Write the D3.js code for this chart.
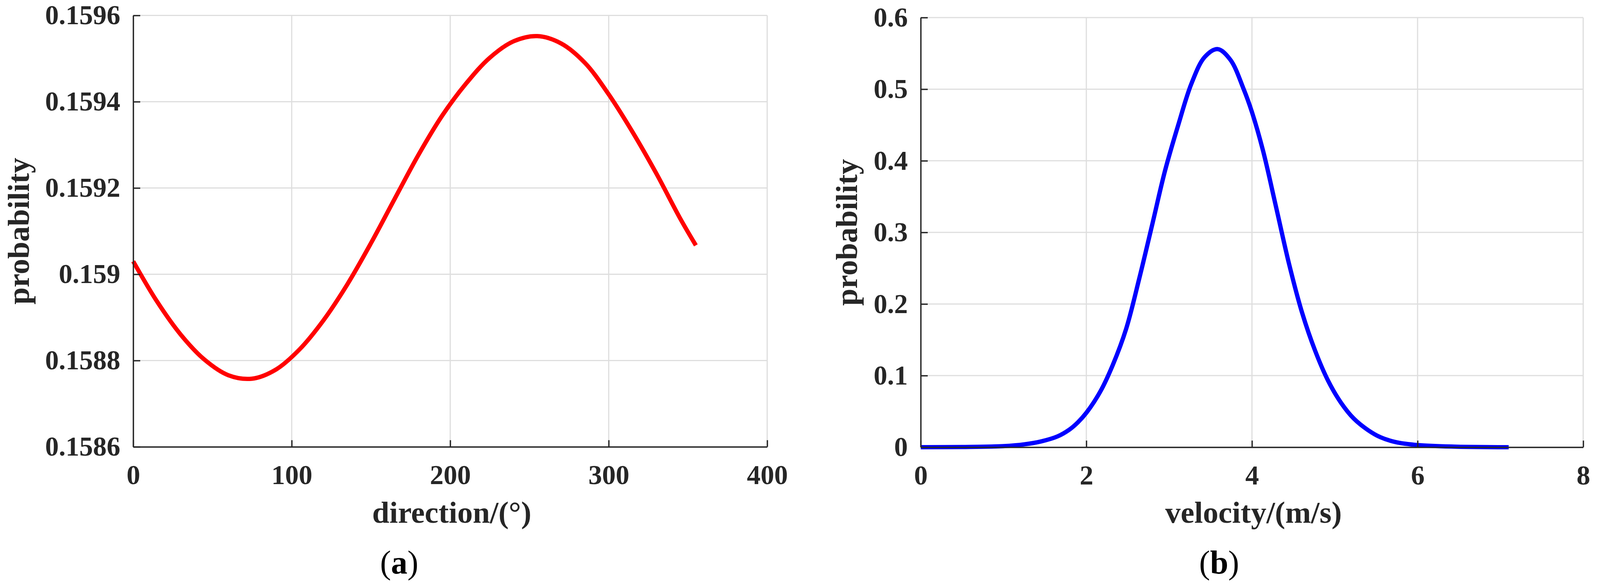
<!DOCTYPE html>
<html>
<head>
<meta charset="utf-8">
<script src="https://cdn.jsdelivr.net/npm/d3@7"></script>
<style>
  html, body { margin: 0; padding: 0; background: #fff; }
  svg { display: block; }
  text { font-family: "Liberation Serif", "Times New Roman", serif; }
</style>
</head>
<body>
<script>
// ---------- Data ----------
const dirDeg  = [0, 15, 30, 45, 60, 75, 90, 105, 120, 135, 150, 165, 180, 195, 210, 225, 240, 255, 270, 285, 300, 315, 330, 345, 355];
const dirProb = [0.15903, 0.158937, 0.15886, 0.158802, 0.158766, 0.158758, 0.158779, 0.158826, 0.158893, 0.158976, 0.159072, 0.159175,
                 0.159277, 0.159368, 0.159442, 0.159502, 0.159540, 0.159552, 0.159535, 0.159490, 0.159417, 0.159330, 0.159234, 0.159130, 0.159067];

const velX    = [0, 0.5, 1.0, 1.25, 1.45, 1.65, 1.8, 1.9, 2.0, 2.17, 2.32, 2.48, 2.64, 2.8, 2.95, 3.11, 3.27, 3.43, 3.585,
                 3.74, 3.9, 4.0, 4.134, 4.29, 4.448, 4.605, 4.762, 4.919, 5.076, 5.23, 5.4, 5.55, 5.74, 6.0, 6.44, 7.1];
const velProb = [0, 0.0003, 0.0015, 0.004, 0.008, 0.015, 0.025, 0.035, 0.048, 0.078, 0.115, 0.165, 0.236, 0.313, 0.386, 0.450, 0.508, 0.545, 0.556,
                 0.541, 0.500, 0.468, 0.414, 0.336, 0.256, 0.188, 0.135, 0.093, 0.062, 0.040, 0.024, 0.014, 0.007, 0.003, 0.0008, 0];

const aXTicks = [0, 100, 200, 300, 400];
const aXTickLabels = ["0", "100", "200", "300", "400"];
const aYTicks = [0.1586, 0.1588, 0.159, 0.1592, 0.1594, 0.1596];
const aYTickLabels = ["0.1586", "0.1588", "0.159", "0.1592", "0.1594", "0.1596"];

const bXTicks = [0, 2, 4, 6, 8];
const bXTickLabels = ["0", "2", "4", "6", "8"];
const bYTicks = [0, 0.1, 0.2, 0.3, 0.4, 0.5, 0.6];
const bYTickLabels = ["0", "0.1", "0.2", "0.3", "0.4", "0.5", "0.6"];

const panels = [
  { xs: dirDeg, ys: dirProb, color: "#ff0000",
    xDomain: [0, 400], yDomain: [0.1586, 0.1596],
    xTicks: aXTicks, xLabels: aXTickLabels, yTicks: aYTicks, yLabels: aYTickLabels,
    xTitle: "direction/(°)", yTitle: "probability", tag: "a",
    left: 341, right: 1964, top: 39.5, bottom: 1144.5,
    yTitleX: 74, tagX: 1022 },
  { xs: velX, ys: velProb, color: "#0000ff",
    xDomain: [0, 8], yDomain: [0, 0.6],
    xTicks: bXTicks, xLabels: bXTickLabels, yTicks: bYTicks, yLabels: bYTickLabels,
    xTitle: "velocity/(m/s)", yTitle: "probability", tag: "b",
    left: 2357, right: 4053, top: 45, bottom: 1145.5,
    yTitleX: 2194, tagX: 3121 }
];

// ---------- Drawing ----------
const W = 4103, H = 1501;
const svg = d3.select("body").append("svg")
  .attr("width", W).attr("height", H)
  .attr("viewBox", `0 0 ${W} ${H}`);
svg.append("rect").attr("width", W).attr("height", H).attr("fill", "#fff");

const axisColor = "#262626";
const gridColor = "#dedede";
const tickFont = 70;
const titleFont = 79;

panels.forEach(p => {
  const x = d3.scaleLinear().domain(p.xDomain).range([p.left, p.right]);
  const y = d3.scaleLinear().domain(p.yDomain).range([p.bottom, p.top]);
  const g = svg.append("g");

  // grid
  const grid = g.append("g");
  grid.selectAll("line.v").data(p.xTicks).join("line")
    .attr("x1", d => x(d)).attr("x2", d => x(d))
    .attr("y1", p.bottom).attr("y2", p.top)
    .attr("stroke", gridColor).attr("stroke-width", 3);
  grid.selectAll("line.h").data(p.yTicks).join("line")
    .attr("x1", p.left).attr("x2", p.right)
    .attr("y1", d => y(d)).attr("y2", d => y(d))
    .attr("stroke", gridColor).attr("stroke-width", 3);

  // line
  const pts = p.xs.map((v, i) => [v, p.ys[i]]);
  g.append("path")
    .datum(pts)
    .attr("fill", "none")
    .attr("stroke", p.color)
    .attr("stroke-width", 11)
    .attr("stroke-linejoin", "round")
    .attr("d", d3.line().x(d => x(d[0])).y(d => y(Math.max(p.yDomain[0], d[1])))
      .curve(d3.curveCatmullRom.alpha(0.5)));

  // axes
  const xAxis = d3.axisBottom(x)
    .tickValues(p.xTicks)
    .tickFormat((d, i) => p.xLabels[i])
    .tickSizeInner(-17).tickSizeOuter(0).tickPadding(46);
  const yAxis = d3.axisLeft(y)
    .tickValues(p.yTicks)
    .tickFormat((d, i) => p.yLabels[i])
    .tickSizeInner(-18).tickSizeOuter(0).tickPadding(33);

  const gx = g.append("g").attr("transform", `translate(0,${p.bottom})`).call(xAxis);
  const gy = g.append("g").attr("transform", `translate(${p.left},0)`).call(yAxis);
  [gx, gy].forEach(ax => {
    ax.attr("font-family", null);
    ax.select(".domain").attr("stroke", axisColor).attr("stroke-width", 3.4);
    ax.selectAll(".tick line").attr("stroke", axisColor).attr("stroke-width", 3.4);
    ax.selectAll(".tick text")
      .attr("fill", axisColor)
      .attr("font-family", "Liberation Serif")
      .attr("font-weight", "bold")
      .attr("font-size", tickFont);
  });

  // axis titles
  g.append("text")
    .attr("x", (p.left + p.right) / 2 + 4)
    .attr("y", 1339)
    .attr("text-anchor", "middle")
    .attr("fill", axisColor)
    .attr("font-weight", "bold")
    .attr("font-size", titleFont)
    .text(p.xTitle);

  g.append("text")
    .attr("transform", `translate(${p.yTitleX},${(p.top + p.bottom) / 2}) rotate(-90)`)
    .attr("text-anchor", "middle")
    .attr("fill", axisColor)
    .attr("font-weight", "bold")
    .attr("font-size", titleFont)
    .text(p.yTitle);

  // panel tag
  const t = g.append("text")
    .attr("x", p.tagX).attr("y", 1469)
    .attr("text-anchor", "middle")
    .attr("fill", "#000")
    .attr("font-size", 84);
  t.append("tspan").text("(");
  t.append("tspan").attr("font-weight", "bold").text(p.tag);
  t.append("tspan").text(")");
});
</script>
</body>
</html>
